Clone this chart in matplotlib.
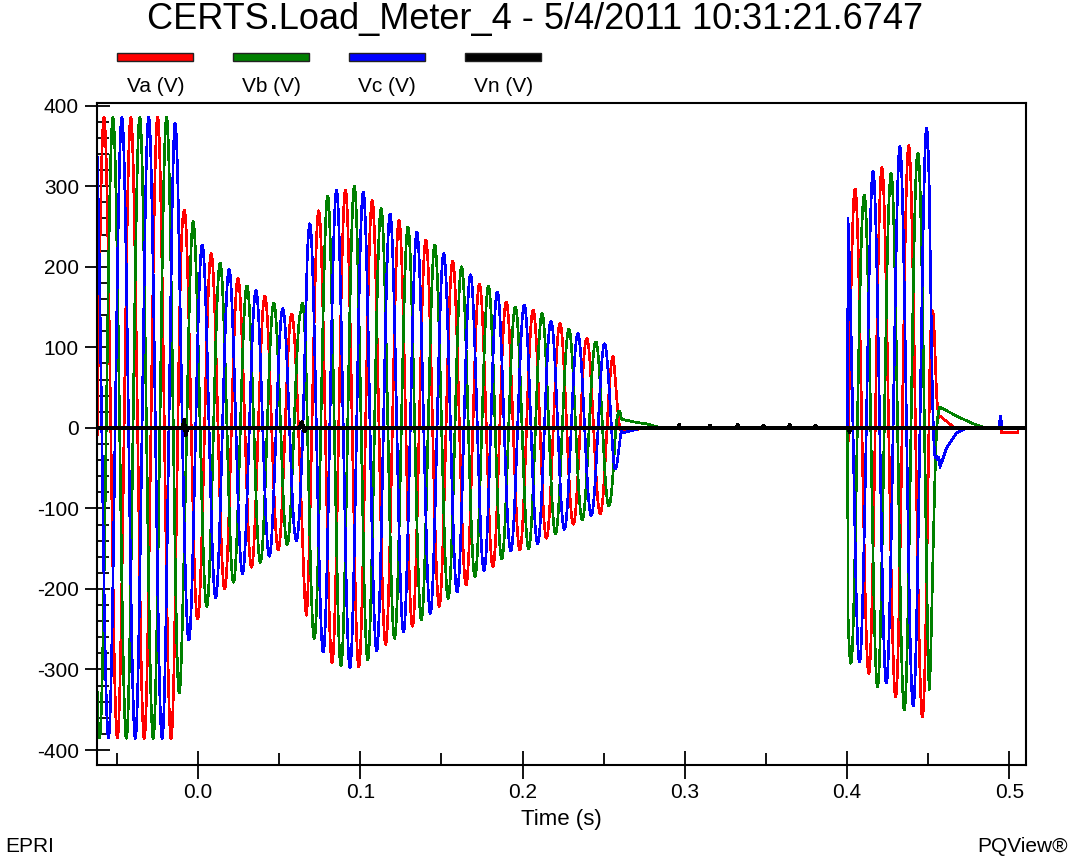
import numpy as np
import matplotlib.pyplot as plt
from matplotlib.patches import Rectangle
from matplotlib.ticker import MultipleLocator

plt.rcParams['font.family'] = ['Liberation Sans', 'DejaVu Sans']

title = "CERTS.Load_Meter_4 - 5/4/2011 10:31:21.6747"
labels = ["Va (V)", "Vb (V)", "Vc (V)", "Vn (V)"]
colors = ["#ff0000", "#008000", "#0000ff", "#000000"]

# fundamental frequency and time of the first Va peak
freq = 60.5
va_peak_t = -0.0579

# peak envelope of the three phase voltages (time s, volts)
env_t = [-0.063, -0.0145, -0.0123, -0.009, -0.005, -0.003, 0.000, 0.003, 0.009,
         0.015, 0.020, 0.026, 0.031, 0.037, 0.043, 0.048, 0.054, 0.0598, 0.0635,
         0.0649, 0.067, 0.0752, 0.0803, 0.0854, 0.091, 0.0967, 0.1019, 0.107,
         0.113, 0.118, 0.1234, 0.129, 0.135, 0.140, 0.146, 0.151, 0.157, 0.1625,
         0.168, 0.1737, 0.179, 0.185, 0.190, 0.195, 0.2015, 0.2066, 0.212, 0.2178,
         0.223, 0.228, 0.234, 0.2395, 0.2445, 0.250, 0.2558, 0.2585, 0.2608,
         0.4003, 0.4005, 0.4038, 0.410, 0.4155, 0.421, 0.4264, 0.432, 0.4377,
         0.4434, 0.4486, 0.4505, 0.4525, 0.455, 0.4565, 0.52]
env_v = [385, 386, 353, 272, 262, 257, 236, 226, 215,
         202, 196, 183, 175, 169, 161, 153, 146, 139, 144,
         183, 248, 272, 289, 295, 295, 300, 293, 283,
         272, 266, 258, 250, 243, 234, 227, 217, 207, 200,
         190, 178, 176, 168, 156, 150, 153, 146, 142, 132,
         130, 123, 117, 111, 107, 106, 90, 40, 0,
         0, 285, 299, 286, 318, 324, 312, 349, 351,
         340, 374, 365, 200, 40, 0, 0]

# slow decays after each collapse, per phase (time s, volts)
va_tail_t = [-0.063, 0.2585, 0.262, 0.268, 0.275, 0.4545, 0.457, 0.462, 0.466, 0.4948, 0.4952, 0.505, 0.5055, 0.52]
va_tail_v = [0, 0, -5, -3, 0, 0, 15, 7, 0, 0, -6, -6, 0, 0]
vb_tail_t = [-0.063, 0.2585, 0.2605, 0.267, 0.2765, 0.285, 0.4545, 0.457, 0.467, 0.4777, 0.485, 0.52]
vb_tail_v = [0, 0, 11, 8, 5, 0, 0, 26, 15, 5, 0, 0]
vc_tail_t = [-0.063, 0.2585, 0.262, 0.27, 0.275, 0.4545, 0.4572, 0.461, 0.467, 0.4735, 0.4935, 0.4945, 0.4955, 0.52]
vc_tail_v = [0, 0, -6, -2, 0, 0, -49, -26, -7, 0, 0, 15, 0, 0]

# neutral voltage, mostly flat with a few blips
vn_t = [-0.0625, -0.0095, -0.0085, -0.0075, -0.0065, 0.0625, 0.0640, 0.0655, 0.0670,
        0.296, 0.2965, 0.297, 0.315, 0.3155, 0.316, 0.332, 0.3325, 0.333,
        0.348, 0.3485, 0.349, 0.364, 0.3645, 0.365, 0.380, 0.3805, 0.381,
        0.401, 0.4015, 0.402, 0.5105]
vn_v = [0, 0, 10, -9, 0, 0, 7, -4, 0,
        0, 4, 0, 0, 3, 0, 0, 4, 0,
        0, 3, 0, 0, 4, 0, 0, 3, 0,
        0, -5, 0, 0]

t = np.linspace(-0.0625, 0.5105, 14000)
env = np.interp(t, env_t, env_v)
tails = [np.interp(t, va_tail_t, va_tail_v),
         np.interp(t, vb_tail_t, vb_tail_v),
         np.interp(t, vc_tail_t, vc_tail_v)]

fig = plt.figure(figsize=(10.7, 8.56), dpi=100)
ax = fig.add_axes([97 / 1070, 1 - 765 / 856, (1026 - 97) / 1070, (765 - 103) / 856])

for k in range(3):
    v = env * np.cos(2 * np.pi * freq * (t - va_peak_t) - k * 2 * np.pi / 3) + tails[k]
    ax.plot(t, v, color=colors[k], lw=1.2, antialiased=False)
ax.plot(vn_t, vn_v, color=colors[3], lw=2.0, antialiased=False)

ax.set_xlim(-0.0622, 0.5102)
ax.set_ylim(-418.6, 403.4)

ax.xaxis.set_major_locator(MultipleLocator(0.1))
ax.xaxis.set_minor_locator(MultipleLocator(0.05))
ax.yaxis.set_major_locator(MultipleLocator(100))
ax.yaxis.set_minor_locator(MultipleLocator(20))
ax.xaxis.set_major_formatter(plt.FuncFormatter(lambda x, p: f"{x:.1f}"))
ax.yaxis.set_major_formatter(plt.FuncFormatter(lambda y, p: f"{y:.0f}"))
ax.tick_params(axis='both', which='major', direction='inout', length=18, width=1.3,
               labelsize=15, pad=4)
ax.tick_params(axis='both', which='minor', direction='in', length=8.5, width=1.3)
ax.tick_params(axis='x', which='major', length=20, pad=3)
for s in ax.spines.values():
    s.set_linewidth(1.5)

ax.set_xlabel("Time (s)", fontsize=16, labelpad=5)

fig.text(0.5, 1 - 19 / 856, title, ha='center', va='center', fontsize=26)

for i, (lab, c) in enumerate(zip(labels, colors)):
    x0 = 117.3 + i * 116
    fig.add_artist(Rectangle((x0 / 1070, 1 - 60.7 / 856), 76 / 1070, 7.4 / 856,
                             transform=fig.transFigure, facecolor=c,
                             edgecolor='#222222', lw=1))
    fig.text((x0 + 38) / 1070, 1 - 86 / 856, lab, ha='center', va='center', fontsize=15)

fig.text(5 / 1070, 1 - 847 / 856, "EPRI", ha='left', va='center', fontsize=15)
fig.text(1068 / 1070, 1 - 847 / 856, "PQView®", ha='right', va='center', fontsize=15)

plt.savefig("out.png", dpi=100)
